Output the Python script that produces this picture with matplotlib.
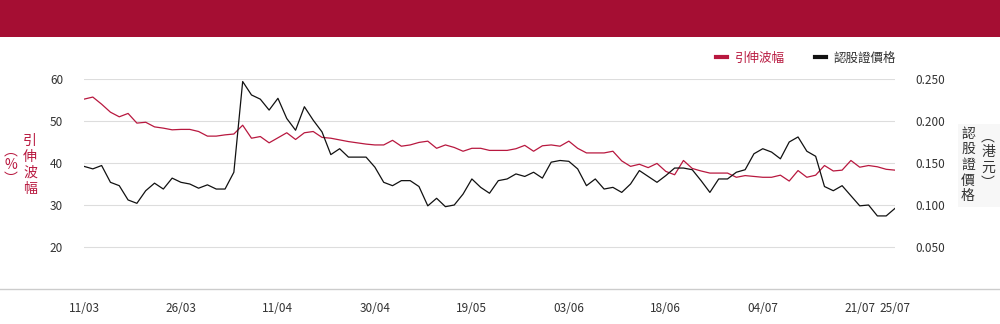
import matplotlib
matplotlib.use("Agg")
import matplotlib.pyplot as plt
from matplotlib.lines import Line2D
from matplotlib.patches import Rectangle

plt.rcParams['font.family'] = ['Noto Sans CJK TC', 'DejaVu Sans']

# Implied volatility (%) per trading day
implied_vol = [
    55.2, 55.7, 54.0, 52.1, 51.0, 51.8, 49.5, 49.7, 48.6, 48.3, 47.9, 48.0, 48.0, 47.5, 46.4, 46.4,
    46.7, 46.9, 49.0, 45.9, 46.3, 44.8, 46.0, 47.2, 45.6, 47.2, 47.5, 46.1, 45.9, 45.5, 45.1, 44.8,
    44.5, 44.3, 44.3, 45.4, 44.0, 44.3, 44.9, 45.2, 43.5, 44.3, 43.7, 42.8, 43.5, 43.5, 43.0,
    43.0, 43.0, 43.4, 44.2, 42.8, 44.1, 44.3, 44.0, 45.2, 43.5, 42.4, 42.4, 42.4, 42.8, 40.5, 39.2,
    39.7, 38.9, 39.9, 38.0, 37.2, 40.6, 38.7, 38.1, 37.6, 37.6, 37.6, 36.6, 37.0, 36.8, 36.6,
    36.6, 37.1, 35.7, 38.2, 36.6, 37.1, 39.4, 38.1, 38.3, 40.6, 39.0, 39.4, 39.1, 38.5, 38.3,
]

# Warrant price (HKD) per trading day
warrant_price = [
    0.146, 0.143, 0.147, 0.127, 0.123, 0.106, 0.102, 0.117, 0.126, 0.119, 0.132, 0.127, 0.125, 0.120, 0.124, 0.119,
    0.119, 0.139, 0.247, 0.231, 0.226, 0.213, 0.227, 0.203, 0.189, 0.217, 0.201, 0.187, 0.160, 0.167, 0.157, 0.157,
    0.157, 0.145, 0.127, 0.123, 0.129, 0.129, 0.122, 0.099, 0.108, 0.098, 0.100, 0.113, 0.131, 0.121, 0.114,
    0.129, 0.131, 0.137, 0.134, 0.139, 0.132, 0.151, 0.153, 0.152, 0.143, 0.123, 0.131, 0.119, 0.121, 0.115, 0.125,
    0.141, 0.134, 0.127, 0.135, 0.144, 0.144, 0.142, 0.129, 0.115, 0.131, 0.131, 0.139, 0.142, 0.161, 0.167,
    0.163, 0.155, 0.175, 0.181, 0.164, 0.158, 0.122, 0.117, 0.123, 0.111, 0.099, 0.100, 0.087, 0.087, 0.096,
]

tick_index = [0, 11, 22, 33, 44, 55, 66, 77, 88, 92]
tick_labels = ["11/03", "26/03", "11/04", "30/04", "19/05", "03/06", "18/06", "04/07", "21/07", "25/07"]

vol_ticks = [20, 30, 40, 50, 60]
price_ticks = [0.05, 0.10, 0.15, 0.20, 0.25]

RED = "#B8183F"
DARK = "#333333"
GRID = "#DDDDDD"

W, H = 1000, 324
fig = plt.figure(figsize=(W / 100, H / 100), dpi=100)

# header band
fig.patches.append(Rectangle((0, 1 - 37 / H), 1, 37 / H, transform=fig.transFigure,
                             facecolor="#A50E33", edgecolor="none", zorder=0))

left, right, bottom, top = 84 / W, 895 / W, 1 - 289 / H, 1 - 79 / H
ax = fig.add_axes([left, bottom, right - left, top - bottom])
ax2 = ax.twinx()

x = list(range(len(implied_vol)))
ax.plot(x, implied_vol, color=RED, lw=0.9, zorder=3)
ax2.plot(x, warrant_price, color="#111111", lw=0.9, zorder=3)

ax.set_xlim(0, len(implied_vol) - 1)
ax.set_ylim(10, 60)
ax2.set_ylim(0, 0.25)

ax.set_yticks(vol_ticks)
ax.set_yticklabels([str(v) for v in vol_ticks])
ax2.set_yticks(price_ticks)
ax2.set_yticklabels([f"{p:.3f}" for p in price_ticks])
ax.set_xticks(tick_index)
ax.set_xticklabels(tick_labels)

for a in (ax, ax2):
    for s in a.spines.values():
        s.set_visible(False)
ax.grid(axis="y", color=GRID, lw=0.8)
ax.set_axisbelow(True)
ax.tick_params(axis="y", length=0, pad=15, labelsize=8.5, labelcolor=DARK)
ax2.tick_params(axis="y", length=0, pad=15, labelsize=8.5, labelcolor=DARK)
ax.tick_params(axis="x", length=0, pad=9, labelsize=8.5, labelcolor=DARK)

# baseline across the full width
fig.add_artist(Line2D([0, 1], [bottom, bottom], transform=fig.transFigure,
                      color="#CCCCCC", lw=1.0))

# vertical axis titles
fig.text(11 / W, 1 - 165 / H, "︵\n%\n︶", color=RED, fontsize=10, ha="center",
         va="center", linespacing=1.0)
fig.text(30 / W, 1 - 165 / H, "引\n伸\n波\n幅", color=RED, fontsize=10, ha="center",
         va="center", linespacing=1.2)

fig.patches.append(Rectangle((958 / W, 1 - 207 / H), 42 / W, 83 / H, transform=fig.transFigure,
                             facecolor="#F7F7F7", edgecolor="none", zorder=0))
fig.text(968 / W, 1 - 165 / H, "認\n股\n證\n價\n格", color=DARK, fontsize=10, ha="center",
         va="center", linespacing=1.15)
fig.text(988 / W, 1 - 160 / H, "︵\n港\n元\n︶", color=DARK, fontsize=10, ha="center",
         va="center", linespacing=1.1)

# legend
handles = [Line2D([], [], color=RED, lw=3), Line2D([], [], color="#111111", lw=3)]
leg = fig.legend(handles, ["引伸波幅", "認股證價格"], loc="center",
                 bbox_to_anchor=(806 / W, 1 - 58 / H), ncol=2, frameon=False,
                 fontsize=9, handlelength=0.9, handletextpad=0.6, columnspacing=2.4)
leg.get_texts()[0].set_color(RED)
leg.get_texts()[1].set_color(DARK)

fig.savefig("out.png", dpi=100)
